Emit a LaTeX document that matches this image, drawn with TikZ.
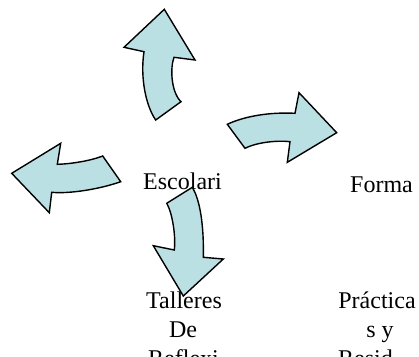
\documentclass[tikz,border=0pt]{standalone}
\usepackage{fontspec}
\setmainfont{Liberation Serif}
\definecolor{arrowfill}{RGB}{187,224,228}
\begin{document}
\begin{tikzpicture}[x=1pt,y=-1pt,
  blockarrow/.style={draw=black,line width=1.4pt,fill=arrowfill,line join=miter},
  lbl/.style={inner sep=0pt,font=\fontsize{24}{29}\selectfont}]
\useasboundingbox (0,0) rectangle (419,356);
\clip (0,0) rectangle (419,356);
% up arrow
\path[blockarrow] (164.3,9.3) -- (195,60) -- (174,57.3)
  .. controls (170,68) and (171,92) .. (181,101.7) -- (155.7,120)
  .. controls (146,106) and (140,78) .. (144,51.7) -- (124,47.3) -- cycle;
% right arrow
\path[blockarrow] (336.7,132.7) -- (287.3,162.3) -- (290,141.7)
  .. controls (275,140) and (255,143) .. (245,148.3) -- (227.3,124.3)
  .. controls (245,116) and (270,112) .. (295,113.3) -- (299,92.7) -- cycle;
% left arrow
\path[blockarrow] (11.7,173.3) -- (60.7,143.3) -- (57.3,164.3)
  .. controls (70,164) and (90,161) .. (102.7,156) -- (120.7,181.7)
  .. controls (100,189) and (70,194) .. (51.7,192.3) -- (49.3,212.7) -- cycle;
% text
\node[lbl,anchor=base west] (escolari) at (143,189) {Escolari};
\node[lbl,anchor=base west] (forma) at (350,192) {Forma};
% down arrow
\path[blockarrow] (183.3,296) -- (153.3,245.7) -- (174.3,250)
  .. controls (176,235) and (172,212) .. (166.7,203.3) -- (192.3,187.3)
  .. controls (200,200) and (204,225) .. (203.3,257.3) -- (223.3,259) -- cycle;
\node[lbl,anchor=base] (talleres) at (184,308) {Talleres};
\node[lbl,anchor=base] (de) at (183,337) {De};
\node[lbl,anchor=base west] (reflexi) at (148,366) {Reflexi};
\node[lbl,anchor=base] (practica) at (377,308) {Práctica};
\node[lbl,anchor=base] (sy) at (380,337) {s y};
\node[lbl,anchor=base west] (resid) at (338,366) {Resid};
\end{tikzpicture}
\end{document}
